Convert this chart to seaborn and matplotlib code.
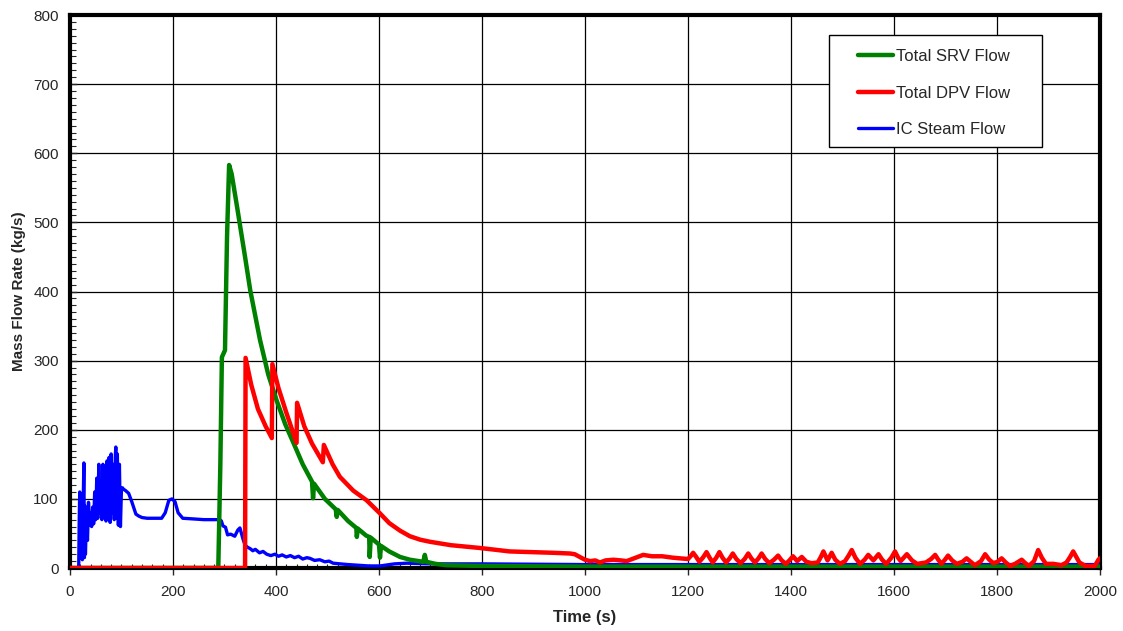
import numpy as np
import pandas as pd
import matplotlib
matplotlib.use('Agg')
import matplotlib.pyplot as plt
from matplotlib.ticker import MultipleLocator
from matplotlib.patches import Rectangle
import seaborn as sns

# Total SRV flow (kg/s)
srv_t = [0, 288, 292, 295, 301, 305, 309, 314, 325, 340, 350, 369, 385, 401, 418, 434, 452,
         470, 472, 474, 495, 516, 518, 520, 540, 556, 557, 559, 575, 581, 582, 584, 600, 602, 604,
         620, 641, 660, 686, 689, 692, 710, 732, 800, 1000, 1500, 2000]
srv_v = [0, 0, 150, 305, 315, 480, 583, 570, 520, 450, 402, 330, 280, 243, 208, 181, 150,
         125, 101, 122, 100, 85, 74, 84, 68, 58, 45, 57, 47, 45, 16, 44, 34, 15, 32,
         24, 16, 12, 9, 19, 9, 6, 4, 3, 2, 2, 2]

# Total DPV flow (kg/s)
dpv_t = [0, 340, 341, 352, 365, 380, 392, 393, 405, 420, 440, 441, 455, 470, 491, 493, 510, 524,
         550, 576, 602, 620, 641, 660, 680, 699, 740, 796, 854, 900, 940, 971, 980, 990, 1000,
         1010, 1020, 1029, 1040, 1055, 1070, 1081, 1095, 1113, 1130, 1150, 1170, 1184, 1200,
         1205, 1210, 1216, 1222, 1229, 1236, 1242, 1248, 1255, 1261, 1267, 1274, 1281, 1287,
         1294, 1302, 1310, 1317, 1323, 1330, 1337, 1343, 1350, 1358, 1367, 1375, 1382, 1390,
         1397, 1404, 1412, 1421, 1430, 1440, 1452, 1458, 1463, 1471, 1479, 1486, 1495, 1505,
         1512, 1518, 1525, 1534, 1543, 1550, 1560, 1570, 1577, 1585, 1595, 1602, 1608, 1613,
         1625, 1635, 1645, 1662, 1672, 1680, 1686, 1692, 1699, 1705, 1713, 1722, 1733, 1741,
         1749, 1757, 1769, 1777, 1785, 1793, 1801, 1809, 1817, 1825, 1835, 1848, 1855, 1862,
         1872, 1880, 1887, 1895, 1910, 1925, 1935, 1942, 1948, 1954, 1960, 1972, 1990, 1997, 2000]
dpv_v = [0, 0, 304, 265, 230, 205, 188, 295, 260, 225, 181, 239, 205, 180, 153, 178, 150, 132,
         112, 98, 79, 65, 54, 46, 41, 38, 33, 29, 24, 23, 22, 21, 20, 16, 12,
         10, 11, 8, 11, 12, 11, 10, 14, 19, 17, 17, 15, 14, 13,
         17, 22, 16, 9, 15, 23, 15, 8, 15, 23, 15, 8, 14, 21,
         13, 7, 13, 21, 14, 8, 14, 21, 13, 7, 12, 18, 11, 6,
         11, 17, 10, 16, 9, 7, 8, 16, 24, 11, 22, 12, 6, 10,
         18, 26, 15, 6, 12, 19, 11, 20, 12, 6, 15, 24, 15, 10,
         20, 11, 6, 8, 13, 19, 12, 6, 12, 18, 11, 6, 9, 14,
         9, 4, 10, 20, 12, 7, 9, 14, 8, 3, 6, 12, 7, 3,
         10, 26, 15, 6, 6, 4, 8, 16, 24, 16, 8, 3, 3, 12, 14]

# IC steam flow (kg/s)
ic_t = [0, 17, 18, 19, 21, 22, 24, 25, 27, 28, 29, 30, 32, 34, 36, 38, 40, 42, 44, 46, 48,
        50, 52, 54, 56, 58, 60, 62, 64, 66, 68, 70, 72, 74, 76, 78, 80, 82, 84, 86, 88, 89,
        90, 92, 94, 96, 98, 100, 102, 104, 108, 114, 120, 128, 134, 140, 150, 165, 178, 185,
        192, 198, 204, 210, 219, 240, 260, 280, 291, 294, 297, 302, 306, 312, 320, 326, 330,
        333, 336, 340, 345, 350, 355, 360, 368, 375, 382, 390, 398, 405, 412, 420, 428, 436,
        444, 452, 460, 466, 475, 485, 495, 503, 511, 525, 540, 560, 580, 602, 630, 654, 700,
        800, 1000, 1200, 1400, 1600, 1800, 2000]
ic_v = [0, 0, 70, 110, 20, 105, 12, 60, 152, 15, 90, 20, 70, 40, 95, 62, 80, 60, 88, 64, 110,
        70, 130, 72, 150, 80, 118, 70, 150, 75, 130, 68, 155, 78, 160, 66, 165, 80, 150, 70,
        160, 175, 72, 165, 62, 150, 60, 116, 116, 114, 112, 108, 96, 78, 75, 73, 72, 72, 72, 80,
        98, 100, 96, 80, 72, 71, 70, 70, 70, 68, 61, 59, 48, 49, 46, 55, 58,
        50, 42, 33, 30, 28, 25, 27, 22, 24, 20, 18, 20, 17, 19, 16, 18, 15,
        17, 13, 15, 14, 11, 12, 9, 10, 7, 6, 5, 4, 3, 3, 6, 7, 6,
        6, 5, 5, 5, 5, 5, 5]

sns.set_style('white')
plt.rcParams['font.family'] = ['Liberation Sans', 'DejaVu Sans']

fig = plt.figure(figsize=(11.23, 6.31), dpi=100)
ax = fig.add_axes([0.0623, 0.0998, 0.9172, 0.8764])

sns.lineplot(x=srv_t, y=srv_v, color='#008000', linewidth=3.2, label='Total SRV Flow',
             estimator=None, sort=False, zorder=4, ax=ax)
sns.lineplot(x=dpv_t, y=dpv_v, color='#ff0000', linewidth=3.2, label='Total DPV Flow',
             estimator=None, sort=False, zorder=5, ax=ax)
sns.lineplot(x=ic_t, y=ic_v, color='#0000ff', linewidth=2.4, label='IC Steam Flow',
             estimator=None, sort=False, zorder=3, ax=ax)

ax.set_xlim(0, 2000)
ax.set_ylim(0, 800)
ax.xaxis.set_major_locator(MultipleLocator(200))
ax.xaxis.set_minor_locator(MultipleLocator(20))
ax.yaxis.set_major_locator(MultipleLocator(100))
ax.yaxis.set_minor_locator(MultipleLocator(10))
ax.grid(True, which='major', color='black', linewidth=0.9)
ax.set_axisbelow(True)

ax.tick_params(which='both', bottom=True, left=True, top=False, right=False)
ax.tick_params(axis='x', which='major', direction='out', length=5, width=1, pad=7, labelsize=11)
ax.tick_params(axis='x', which='minor', direction='in', length=3, width=0.8)
ax.tick_params(axis='y', which='major', direction='in', length=5, width=1, pad=8, labelsize=11)
ax.tick_params(axis='y', which='minor', direction='in', length=4, width=0.8)

for s in ax.spines.values():
    s.set_color('black')
    s.set_linewidth(3)

ax.set_xlabel('Time (s)', fontsize=12, fontweight='bold', labelpad=8)
ax.set_ylabel('Mass Flow Rate (kg/s)', fontsize=11, fontweight='bold', labelpad=5)

# legend frame drawn separately so the handles sit further inside
ax.add_patch(Rectangle((0.7369, 0.7613), 0.2068, 0.2025, transform=ax.transAxes,
                       facecolor='white', edgecolor='black', linewidth=1.0, zorder=6))
leg = ax.legend(loc='upper left', bbox_to_anchor=(0.765, 0.9386), fontsize=12,
                frameon=False, labelspacing=1.3, borderpad=0, handlelength=2.1,
                handletextpad=0.2, borderaxespad=0)
leg.set_zorder(7)

fig.savefig('out.png', dpi=100)
